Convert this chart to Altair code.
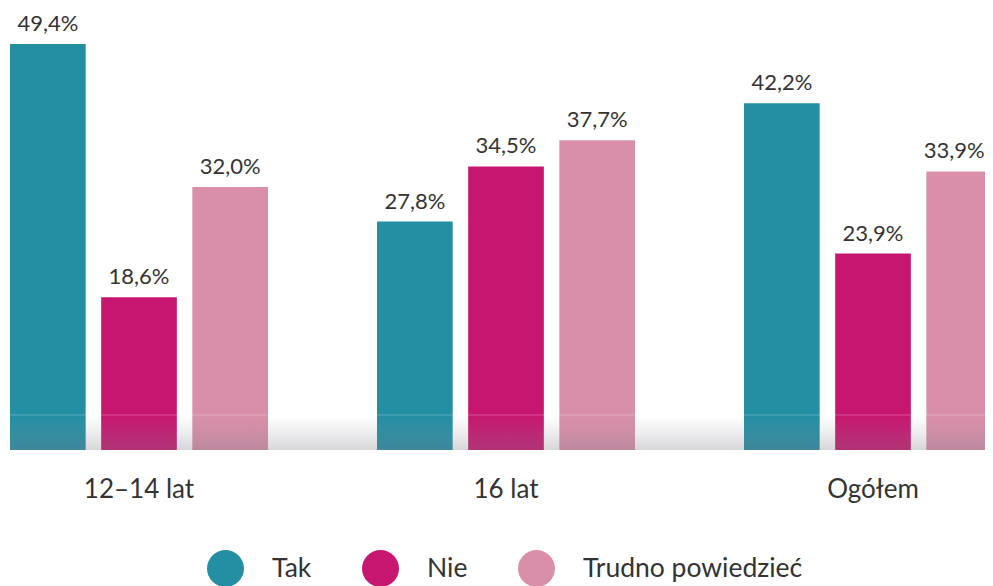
import altair as alt
import pandas as pd

groups = ["12–14 lat", "16 lat", "Ogółem"]
series = ["Tak", "Nie", "Trudno powiedzieć"]
tak = [49.4, 27.8, 42.2]
nie = [18.6, 34.5, 23.9]
trudno = [32.0, 37.7, 33.9]
colors = ["#248ea3", "#c7166f", "#d98fa9"]

rows = []
for i, g in enumerate(groups):
    for s, vals in zip(series, [tak, nie, trudno]):
        v = vals[i]
        rows.append({"group": g, "series": s, "value": v,
                     "label": f"{v:.1f}".replace(".", ",") + "%"})
df = pd.DataFrame(rows)

W, H = 992, 578
BASE = 442
FONT = "Lato"
TXT = "#333333"

x = alt.X("group:N", sort=groups,
          scale=alt.Scale(paddingInner=0.297, paddingOuter=0),
          axis=alt.Axis(title=None, domain=False, ticks=False, labelAngle=0,
                        labelFont=FONT, labelFontSize=26, labelColor=TXT,
                        labelPadding=26, offset=-(H - BASE)))
xo = alt.XOffset("series:N", sort=series,
                 scale=alt.Scale(paddingInner=0.17, paddingOuter=0))
y = alt.Y("value:Q", scale=alt.Scale(domain=[0, 53.78], range=[BASE, 0]), axis=None)

color = alt.Color("series:N", sort=series,
                  scale=alt.Scale(domain=series, range=colors),
                  legend=alt.Legend(orient="none", legendX=197, legendY=542,
                                    direction="horizontal", title=None,
                                    symbolType="circle", symbolSize=1369,
                                    symbolStrokeWidth=0, symbolOpacity=1,
                                    labelFont=FONT, labelFontSize=26.5,
                                    labelColor=TXT, labelOffset=28,
                                    labelLimit=0, columnPadding=50))

last = f"(datum.group == '{groups[-1]}') && (datum.series == '{series[-1]}')"

base = alt.Chart(df)
bars = base.mark_bar(clip=True).encode(x=x, xOffset=xo, y=y, color=color)
labels = base.mark_text(dy=-13, baseline="alphabetic", fontSize=22, font=FONT,
                        color=TXT).encode(
    x=x, xOffset=xo, y=y, text="label:N").transform_filter("!(" + last + ")")
label_edge = base.mark_text(dy=-13, dx=-10, baseline="alphabetic", fontSize=22,
                            font=FONT, color=TXT).encode(
    x=x, xOffset=xo, y=y, text="label:N").transform_filter(last)

shadow = alt.Chart(alt.Data(values=[{}])).mark_rect(
    fill={"gradient": "linear", "x1": 0, "y1": 0, "x2": 0, "y2": 1,
          "stops": [{"offset": 0, "color": "rgba(150,150,158,0)"},
                    {"offset": 1, "color": "rgba(120,120,130,0.3)"}]}
).encode(x=alt.value(0), x2=alt.value(W), y=alt.value(407), y2=alt.value(BASE))

edge = alt.Chart(alt.Data(values=[{}])).mark_rule(
    color="white", opacity=0.25, strokeWidth=1
).encode(x=alt.value(0), x2=alt.value(W), y=alt.value(407))

chart = alt.layer(bars, labels, label_edge, shadow, edge).properties(
    width=W, height=H,
    padding={"left": 2, "right": -17, "top": 0, "bottom": 0},
    autosize=alt.AutoSizeParams(type="none"),
).configure_view(stroke=None)

chart.save("out.html", embed_options={"renderer": "svg", "actions": False})
